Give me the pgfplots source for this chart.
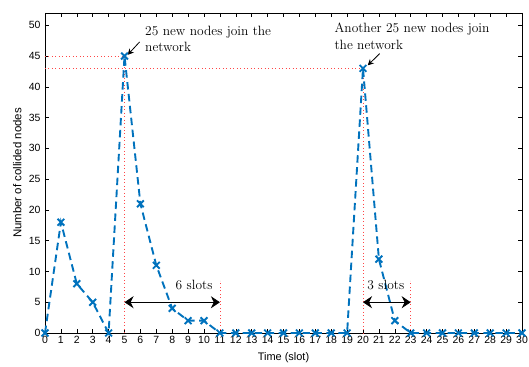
\documentclass[border=0pt]{standalone}
\usepackage{fontspec}
\setsansfont{Liberation Sans}
\usepackage{pgfplots}
\pgfplotsset{compat=1.18}
\usetikzlibrary{arrows.meta}
\definecolor{mblue}{RGB}{0,114,189}
\definecolor{lred}{RGB}{255,70,70}
\begin{document}
\begin{tikzpicture}
\begin{axis}[
  scale only axis, width=477bp, height=320bp,
  xmin=0, xmax=30, ymin=0, ymax=52,
  xtick={0,1,...,30}, ytick={0,5,...,50},
  tick align=inside, tick pos=both,
  major tick length=4bp,
  /pgf/number format/assume math mode=true,
  tick label style={font=\sffamily\fontsize{10.5}{12}\selectfont},
  xticklabel style={anchor=base, yshift=-10bp},
  yticklabel style={anchor=east, xshift=-1bp},
  xlabel={Time (slot)}, ylabel={Number of collided nodes},
  xlabel style={font=\sffamily\fontsize{11}{13}\selectfont, at={(axis description cs:0.5,0)}, anchor=base, yshift=-27bp},
  ylabel style={font=\sffamily\fontsize{11.5}{13}\selectfont, at={(axis description cs:-0.058,0.5)}, anchor=center},
  axis line style={line width=0.8pt},
  every tick/.style={line width=0.6pt, black},
  clip=false,
]
\coordinate (sw) at (rel axis cs:0,0);
\coordinate (ne) at (rel axis cs:1,1);
\addplot[lred, dash pattern=on 0.9pt off 2.6pt, line width=0.7pt] coordinates {(0,45) (5,45) (5,0)};
\addplot[lred, dash pattern=on 0.9pt off 2.6pt, line width=0.7pt] coordinates {(0,43) (20,43) (20,0)};
\addplot[lred, dash pattern=on 0.9pt off 2.6pt, line width=0.7pt] coordinates {(11,0) (11,8.5)};
\addplot[lred, dash pattern=on 0.9pt off 2.6pt, line width=0.7pt] coordinates {(23,0) (23,8.5)};
\addplot[mblue, line width=1.9pt, dash pattern=on 7.5pt off 4.5pt, mark=x, mark size=4.8pt, mark options={solid, line width=1.9pt}] coordinates {
(0,0) (1,18) (2,8) (3,5) (4,0) (5,45) (6,21) (7,11) (8,4) (9,2) (10,2)
(11,0) (12,0) (13,0) (14,0) (15,0) (16,0) (17,0) (18,0) (19,0) (20,43)
(21,12) (22,2) (23,0) (24,0) (25,0) (26,0) (27,0) (28,0) (29,0) (30,0)};
\draw[{Stealth[length=9bp,width=12bp]}-{Stealth[length=9bp,width=12bp]}, line width=0.8pt] (axis cs:5,5) -- (axis cs:11,5);
\draw[{Stealth[length=9bp,width=12bp]}-{Stealth[length=9bp,width=12bp]}, line width=0.8pt] (axis cs:20,5) -- (axis cs:23,5);
\node[anchor=base west, inner sep=0pt, font=\fontsize{13.5}{16}\selectfont] at (axis cs:8.21,7.1) {6 slots};
\node[anchor=base west, inner sep=0pt, font=\fontsize{13.5}{16}\selectfont] at (axis cs:20.27,7.1) {3 slots};
\draw[-{Stealth[length=6bp,width=6bp]}, line width=0.8pt] (axis cs:5.95,47.3) -- (axis cs:5.2,45.2);
\draw[-{Stealth[length=6bp,width=6bp]}, line width=0.8pt] (axis cs:21.05,45.4) -- (axis cs:20.3,43.5);
\node[anchor=base west, inner sep=0pt, font=\fontsize{13.5}{16}\selectfont] at (axis cs:6.29,48.4) {25 new nodes join the};
\node[anchor=base west, inner sep=0pt, font=\fontsize{13.5}{16}\selectfont] at (axis cs:6.29,45.8) {network};
\node[anchor=base west, inner sep=0pt, font=\fontsize{13.5}{16}\selectfont] at (axis cs:18.2,48.9) {Another 25 new nodes join};
\node[anchor=base west, inner sep=0pt, font=\fontsize{13.5}{16}\selectfont] at (axis cs:18.2,46.1) {the network};
\end{axis}
\pgfresetboundingbox
\path ([shift={(-45bp,-34bp)}]sw) rectangle ([shift={(7bp,13bp)}]ne);
\end{tikzpicture}
\end{document}
